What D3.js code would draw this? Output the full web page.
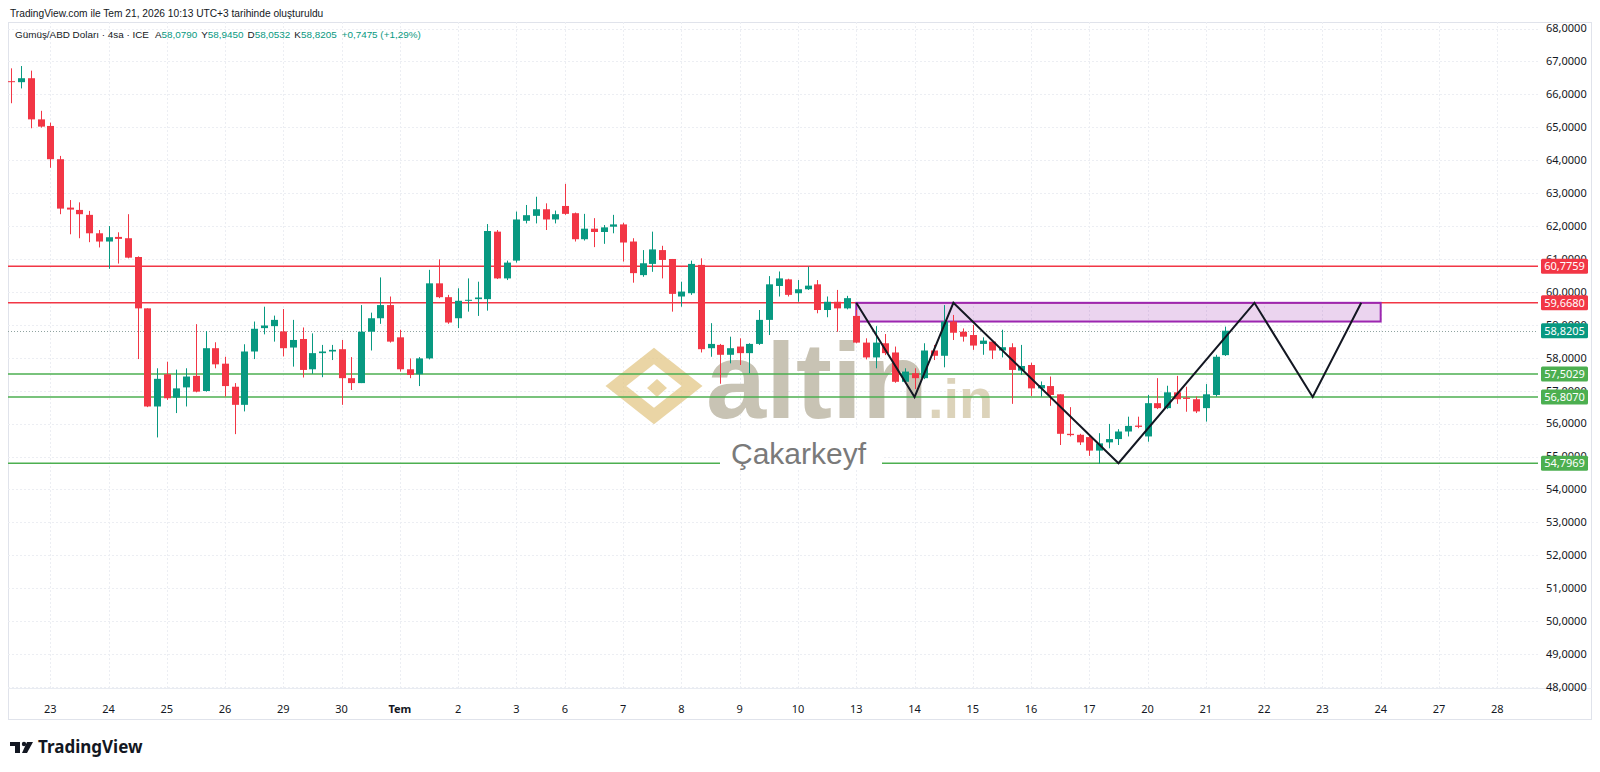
<!DOCTYPE html>
<html><head><meta charset="utf-8">
<script src="https://cdn.jsdelivr.net/npm/d3@7"></script>
<style>
body{margin:0;background:#fff;}
svg{display:block;font-family:"Noto Sans","Liberation Sans",Arial,sans-serif;}
</style>
</head><body>
<svg id="chart" width="1600" height="772"></svg>
<script>
// ---- DATA ----
const opens  = [66.40,66.37,66.49,65.24,65.04,64.03,62.56,62.49,62.34,61.78,61.53,61.67,61.63,61.06,59.50,56.52,57.50,56.79,57.10,57.45,56.99,58.29,57.82,57.12,56.57,58.19,58.90,58.96,58.80,58.31,58.57,57.65,58.14,58.19,58.26,57.38,57.23,58.79,59.20,59.60,58.62,57.65,57.50,57.98,60.26,59.84,59.20,59.74,59.78,59.78,61.83,60.41,60.95,62.16,62.31,62.51,62.20,62.61,62.39,61.60,61.92,61.82,61.98,62.05,61.53,60.51,60.85,61.27,61.00,59.86,59.96,60.82,58.29,58.39,58.09,58.34,58.14,58.42,59.15,60.18,60.38,59.96,60.08,60.23,59.45,59.70,59.50,59.27,58.46,58.01,58.44,58.16,57.27,57.53,57.38,58.22,58.06,59.10,58.79,58.69,58.42,58.49,58.22,58.32,57.61,57.78,57.07,57.14,56.89,55.69,55.66,55.59,55.18,55.43,55.53,55.76,55.94,55.61,56.62,56.47,56.95,56.79,56.74,56.47,56.87,58.079];
const highs  = [66.79,66.86,66.72,65.50,65.14,64.13,62.79,62.72,62.46,61.88,62.00,61.81,62.36,61.08,59.50,57.68,57.88,57.64,57.68,59.02,58.81,58.47,58.03,57.23,58.41,59.10,59.55,59.28,59.48,59.15,58.92,58.74,58.39,58.39,58.54,58.02,59.60,59.37,60.44,59.86,58.85,57.98,58.02,60.67,60.99,59.91,60.11,60.41,60.31,62.06,61.88,60.95,62.44,62.64,62.89,62.69,62.47,63.28,62.41,62.37,62.24,62.03,62.34,62.10,61.63,61.27,61.83,61.40,61.00,60.31,60.95,61.02,59.05,58.42,58.64,58.59,58.44,59.45,60.48,60.62,60.40,60.36,60.77,60.36,59.86,60.06,59.88,59.45,58.59,58.96,58.72,58.34,57.68,57.68,58.44,58.39,59.60,59.30,58.89,59.00,58.62,58.54,58.85,58.44,58.39,57.85,57.28,57.43,56.89,56.50,55.69,55.66,55.71,55.99,55.83,56.21,56.21,56.87,57.38,57.15,57.45,57.12,56.82,57.20,58.09,58.945];
const lows   = [65.73,66.18,64.97,64.99,63.77,62.36,61.75,61.63,61.51,61.35,60.70,60.86,61.02,57.96,56.50,55.58,56.72,56.32,56.52,56.95,56.97,57.68,56.82,55.68,56.37,57.96,58.71,58.49,58.04,57.73,57.40,57.51,57.41,57.93,56.57,57.02,57.23,58.22,59.03,58.46,57.58,57.38,57.14,57.95,59.81,59.03,58.90,59.40,59.27,59.43,60.39,60.36,60.89,62.08,62.08,61.88,62.08,62.34,61.53,61.56,61.36,61.46,61.78,60.92,60.28,60.46,60.61,60.41,59.40,59.55,59.91,58.16,58.03,57.21,57.83,57.78,57.53,58.39,58.69,59.86,59.86,59.70,60.06,59.35,59.23,58.79,59.47,58.44,57.95,57.68,58.08,57.24,57.22,57.05,57.35,57.93,57.71,58.54,58.49,58.24,58.09,57.96,58.01,56.60,57.48,56.84,56.82,56.54,55.35,55.61,55.35,55.02,54.78,55.25,55.35,55.61,55.86,55.45,56.44,56.44,56.60,56.36,56.32,56.06,56.82,58.0532];
const closes = [66.38,66.49,65.24,65.02,64.03,62.53,62.50,62.36,61.78,61.53,61.66,61.61,61.04,59.50,56.52,57.36,56.77,57.07,57.43,56.97,58.29,57.80,57.14,56.57,58.19,58.88,58.98,59.15,58.29,58.54,57.63,58.14,58.19,58.24,57.38,57.23,58.79,59.20,59.60,58.49,57.65,57.48,57.98,60.26,59.84,59.07,59.73,59.76,59.83,61.85,60.41,60.89,62.20,62.33,62.51,62.20,62.36,62.37,61.60,61.92,61.82,61.96,62.05,61.50,60.57,60.87,61.29,60.97,59.94,60.01,60.85,58.26,58.42,58.09,58.29,58.14,58.42,59.15,60.23,60.41,59.91,60.08,60.19,59.45,59.70,59.50,59.81,58.46,58.01,58.46,58.14,57.27,57.58,57.38,58.22,58.06,59.10,58.76,58.64,58.37,58.52,58.22,58.32,57.63,57.75,57.07,57.17,56.87,55.69,55.65,55.43,55.18,55.40,55.53,55.76,55.93,55.90,56.62,56.47,56.95,56.74,56.75,56.37,56.89,58.03,58.8205];

// time axis: bars before first label, then day labels with bar counts (4h bars)
const leadBars  = 4;
const dayLabels = ["23","24","25","26","29","30","Tem","2","3","6","7","8","9","10","13","14","15","16","17","20","21","22","23","24","27","28"];
const dayBars   = [6,6,6,6,6,6,6,6,5,6,6,6,6,6,6,6,6,6,6,6,6,6,6,6,6,6];

const priceTicks = d3.range(48, 69, 1);

const levelPrices = [60.7759, 59.6680, 57.5029, 56.8070, 54.7969];
const levelKinds  = ["res","res","sup","sup","sup"];

const zonePrices = [59.668, 59.10];
const zoneBars   = [87, 141];

const patternBars   = [87, 93, 97, 114, 128, 134, 139];
const patternPrices = [59.668, 56.807, 59.668, 54.7969, 59.668, 56.807, 59.668];

const lastPrice = 58.8205;
const legendVals = ["58,0790","58,9450","58,0532","58,8205"];

// ---- LAYOUT ----
const svg = d3.select("#chart");
const plotL = 8, plotR = 1538, plotT = 22, plotB = 688;
const x = d3.scaleLinear().domain([-0.35, 157.2]).range([plotL, plotR]);
const y = d3.scaleLinear().domain([48, 68]).range([687, 28.5]);
const fmt = v => d3.format(".4f")(v).replace(".", ",");
const UP = "#089981", DOWN = "#f23645", SUP = "#4caf50";
const UIFONT = "'Liberation Sans', Arial, sans-serif";

// tick indices
const tickIdx = [];
{ let c = leadBars; dayBars.forEach(b => { tickIdx.push(c); c += b; }); }

// frame
svg.append("rect").attr("x", 8.5).attr("y", 22.5).attr("width", 1583).attr("height", 697)
  .attr("fill", "none").attr("stroke", "#e0e3eb");
svg.append("line").attr("x1", 8).attr("x2", 1592).attr("y1", 688.5).attr("y2", 688.5).attr("stroke", "#e9ecf2");

const defs = svg.append("defs");
defs.append("clipPath").attr("id", "plotclip").append("rect")
  .attr("x", plotL).attr("y", plotT).attr("width", plotR - plotL).attr("height", plotB - plotT);

const g = svg.append("g").attr("clip-path", "url(#plotclip)");

// grid
g.selectAll(".hg").data(priceTicks).join("line")
  .attr("x1", plotL).attr("x2", plotR)
  .attr("y1", d => Math.round(y(d)) + 0.5).attr("y2", d => Math.round(y(d)) + 0.5)
  .attr("stroke", "#eceef3").attr("stroke-dasharray", "2,2");
g.selectAll(".vg").data(tickIdx).join("line")
  .attr("y1", plotT).attr("y2", plotB)
  .attr("x1", d => Math.round(x(d)) + 0.5).attr("x2", d => Math.round(x(d)) + 0.5)
  .attr("stroke", "#eceef3").attr("stroke-dasharray", "2,2");

// watermark
const wm = g.append("g");
const lg = wm.append("g").attr("transform", "translate(654,386)").attr("opacity", 0.75);
lg.append("path").attr("d", "M0,-30 L38,0 L0,30 L-38,0 Z").attr("fill", "none")
  .attr("stroke", "#e3c888").attr("stroke-width", 13).attr("stroke-linejoin", "miter");
lg.append("path").attr("d", "M3,-7 L13,2 L3,11 L-7,2 Z").attr("fill", "#e3c888");
wm.append("text").attr("x", 706).attr("y", 418).attr("font-size", 108).attr("font-weight", 700)
  .attr("font-family", UIFONT).attr("fill", "#c8c3b4").text("altin");
wm.append("text").attr("x", 928).attr("y", 418).attr("font-size", 56).attr("font-weight", 700)
  .attr("font-family", UIFONT).attr("fill", "#dcd3ba").text(".in");

// dotted last price line
g.append("line").attr("x1", plotL).attr("x2", plotR)
  .attr("y1", Math.round(y(lastPrice)) + 0.5).attr("y2", Math.round(y(lastPrice)) + 0.5)
  .attr("stroke", "#8fa3a0").attr("stroke-dasharray", "1,2");

// level lines
g.selectAll(".lvl").data(levelPrices).join("line")
  .attr("x1", plotL).attr("x2", plotR)
  .attr("y1", d => y(d)).attr("y2", d => y(d))
  .attr("stroke", (d, i) => levelKinds[i] === "res" ? DOWN : SUP).attr("stroke-width", 1.5);

// watermark caption with white backdrop
const cap = g.append("g");
cap.append("rect").attr("x", 720).attr("y", 428).attr("width", 162).attr("height", 40).attr("fill", "#fff");
cap.append("text").attr("x", 731).attr("y", 464).attr("font-size", 30)
  .attr("font-family", UIFONT).attr("fill", "#7a7a7a").text("Çakarkeyf");

// zone
g.append("rect")
  .attr("x", x(zoneBars[0])).attr("width", x(zoneBars[1]) - x(zoneBars[0]))
  .attr("y", y(zonePrices[0])).attr("height", y(zonePrices[1]) - y(zonePrices[0]))
  .attr("fill", "rgba(156,39,176,0.2)").attr("stroke", "#9c27b0").attr("stroke-width", 2);

// candles
const idx = d3.range(opens.length);
const bw = 7;
const cg = g.append("g");
cg.selectAll(".wick").data(idx).join("line")
  .attr("x1", i => Math.round(x(i)) + 0.5).attr("x2", i => Math.round(x(i)) + 0.5)
  .attr("y1", i => y(highs[i])).attr("y2", i => y(lows[i]))
  .attr("stroke", i => closes[i] >= opens[i] ? UP : DOWN).attr("stroke-width", 1);
cg.selectAll(".body").data(idx).join("rect")
  .attr("x", i => Math.round(x(i)) + 0.5 - bw / 2)
  .attr("width", bw)
  .attr("y", i => y(Math.max(opens[i], closes[i])))
  .attr("height", i => Math.max(1, Math.abs(y(opens[i]) - y(closes[i]))))
  .attr("fill", i => closes[i] >= opens[i] ? UP : DOWN);

// pattern line
const pat = patternBars.map((b, i) => [x(b), y(patternPrices[i])]);
g.append("path").attr("d", d3.line()(pat)).attr("fill", "none")
  .attr("stroke", "#131722").attr("stroke-width", 2).attr("stroke-linejoin", "miter");

// price axis labels
svg.selectAll(".pt").data(priceTicks).join("text")
  .attr("x", 1546).attr("y", d => y(d)).attr("dy", "0.35em")
  .attr("font-size", 11).attr("fill", "#131722").text(fmt);

// price tags
const tags = levelPrices.map((p, i) => ({p, c: levelKinds[i] === "res" ? DOWN : SUP}));
tags.push({p: lastPrice, c: UP});
const tg = svg.selectAll(".tag").data(tags).join("g")
  .attr("transform", d => `translate(1541,${y(d.p)})`);
tg.append("rect").attr("x", 0).attr("y", -7.5).attr("width", 47).attr("height", 15).attr("rx", 1.5)
  .attr("fill", d => d.c);
tg.append("text").attr("x", 23.5).attr("y", 0).attr("dy", "0.35em").attr("text-anchor", "middle")
  .attr("font-size", 11).attr("fill", "#fff").text(d => fmt(d.p));

// time axis labels
svg.selectAll(".tl").data(tickIdx).join("text")
  .attr("x", d => x(d)).attr("y", 709).attr("dy", "0.35em").attr("text-anchor", "middle")
  .attr("font-size", 11).attr("fill", "#131722")
  .attr("font-weight", (d, i) => dayLabels[i] === "Tem" ? 700 : 400)
  .text((d, i) => dayLabels[i]);

// header
svg.append("text").attr("x", 10).attr("y", 13).attr("dy", "0.35em").attr("font-size", 10.2)
  .attr("font-family", UIFONT).attr("fill", "#131722")
  .text("TradingView.com ile Tem 21, 2026 10:13 UTC+3 tarihinde oluşturuldu");
const leg = svg.append("text").attr("x", 15).attr("y", 35).attr("dy", "0.35em").attr("font-size", 9.9)
  .attr("font-family", UIFONT).attr("fill", "#131722");
leg.append("tspan").text("Gümüş/ABD Doları · 4sa · ICE");
["A","Y","D","K"].forEach((k, i) => {
  leg.append("tspan").attr("dx", i === 0 ? 6 : 4).text(k);
  leg.append("tspan").attr("fill", UP).text(legendVals[i]);
});
leg.append("tspan").attr("dx", 5).attr("fill", UP).text("+0,7475 (+1,29%)");

// TradingView logo
const tv = svg.append("g").attr("transform", "translate(10,742)");
tv.append("path").attr("d", "M0,0 H10 V11 H5 V4 H0 Z").attr("fill", "#131722");
tv.append("circle").attr("cx", 14).attr("cy", 2).attr("r", 2.2).attr("fill", "#131722");
tv.append("path").attr("d", "M17,0 H23 L17,11 H12 Z").attr("fill", "#131722");
tv.append("text").attr("x", 28).attr("y", 11).attr("font-size", 17).attr("font-weight", 700)
  .attr("fill", "#131722").text("TradingView");
</script>
</body></html>
